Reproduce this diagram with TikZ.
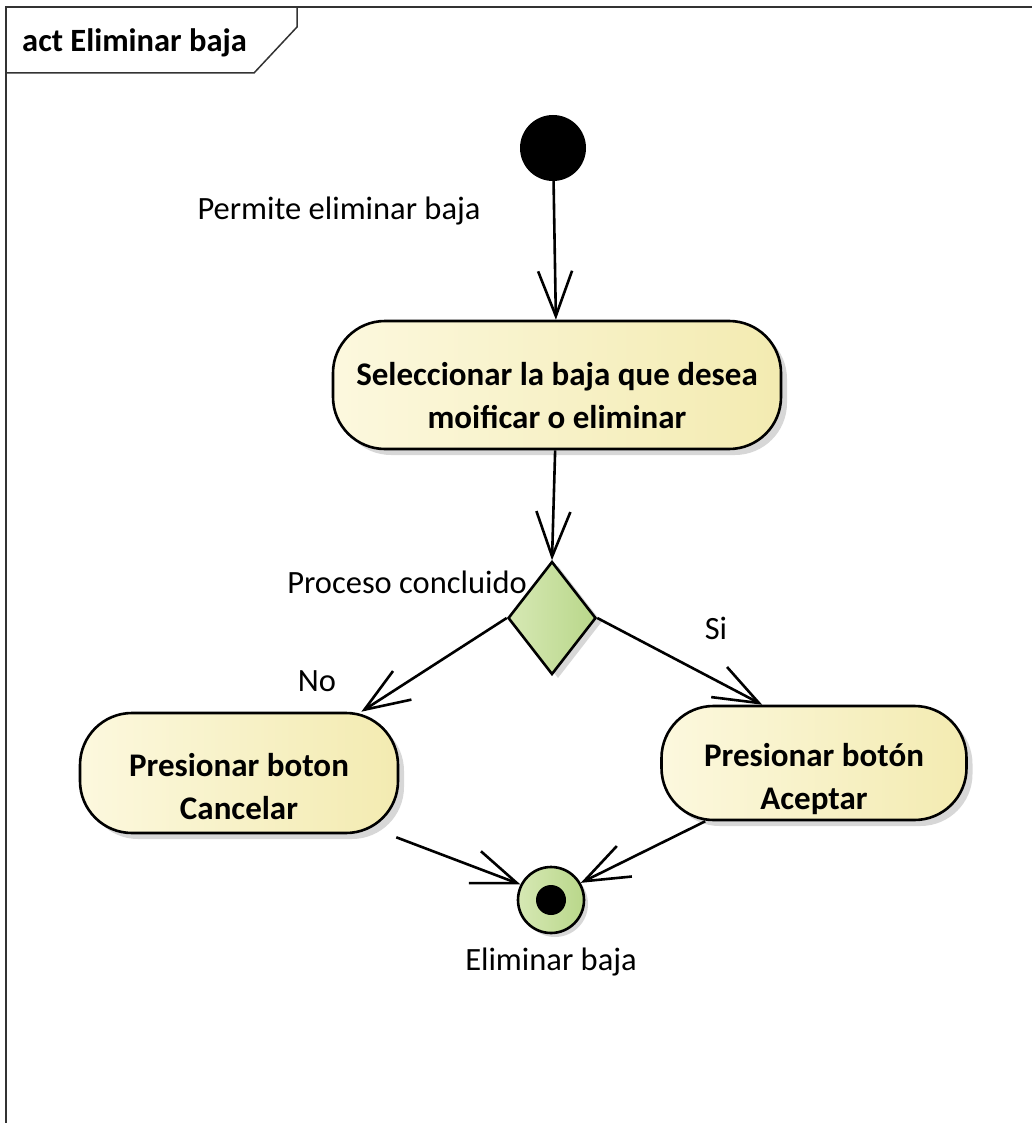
\documentclass[tikz,border=0pt]{standalone}
\usepackage{fontspec}
\setmainfont{Carlito}
\usetikzlibrary{arrows.meta, shapes.geometric, shadows, calc}
\definecolor{actLight}{RGB}{252, 248, 222}
\definecolor{actDark}{RGB}{243, 235, 177}
\definecolor{decLight}{RGB}{214, 232, 180}
\definecolor{decDark}{RGB}{185, 215, 138}

\tikzset{
  action/.style={draw, line width=2.6pt, rounded corners=52pt,
    left color=actLight, right color=actDark,
    drop shadow={shadow xshift=6pt, shadow yshift=-6pt, fill=gray!45, opacity=.7}},
  acttext/.style={align=center, inner sep=0pt, font=\fontsize{33}{43}\selectfont\bfseries},
  flow/.style={line width=2.6pt, -{Straight Barb[length=45pt, width=34pt, line width=2.6pt]}},
  lbl/.style={font=\fontsize{32.5}{36}\selectfont, inner sep=0pt}
}

\begin{document}
\begin{tikzpicture}[x=1pt, y=-1pt]
  \useasboundingbox (0,0) rectangle (1032,1123);
  % frame and tab
  \draw[line width=1.5pt, black!80] (6,1123) -- (6,7) -- (1032,7);
  \draw[line width=1.5pt, black!80] (6,73) -- (254,73) -- (297,27) -- (297,7);
  \node[anchor=west, inner sep=0pt, font=\fontsize{32.5}{36}\selectfont\bfseries] (title) at (22,43) {act Eliminar baja};

  \node[circle, fill=black, minimum size=66pt, inner sep=0pt] (start) at (553,148) {};
  \node[action, minimum width=448pt, minimum height=128pt,
    label={[acttext, yshift=-11pt]center:Seleccionar la baja que desea\\moificar o eliminar}] (select) at (557,385) {};
  \node[diamond, draw, line width=2.6pt, minimum width=88pt, minimum height=113pt, inner sep=0pt,
    left color=decLight, right color=decDark,
    drop shadow={shadow xshift=6pt, shadow yshift=-4pt, fill=gray!45, opacity=.7}] (decide) at (552,618) {};
  \node[action, minimum width=318pt, minimum height=120pt,
    label={[acttext, yshift=-14pt]center:Presionar boton\\Cancelar}] (cancel) at (239,773) {};
  \node[action, minimum width=305pt, minimum height=114pt,
    label={[acttext, yshift=-16pt]center:Presionar botón\\Aceptar}] (accept) at (814,763) {};
  \node[circle, draw, line width=2.6pt, minimum size=66pt, inner sep=0pt,
    left color=decLight, right color=decDark,
    drop shadow={shadow xshift=4pt, shadow yshift=-4pt, fill=gray!45, opacity=.7}] (final) at (551,900) {};
  \fill[black] (final) circle (15pt);

  % labels
  \node[lbl] (permite) at (339,211) {Permite eliminar baja};
  \node[lbl, anchor=east] (proceso) at (527,582) {Proceso concluido};
  \node[lbl] (no) at (317,681) {No};
  \node[lbl] (si) at (716,628) {Si};
  \node[lbl] (fin) at (551,962) {Eliminar baja};

  % transitions
  \draw[flow] (start) -- (select);
  \draw[flow] (select) -- (decide.north);
  \draw[flow] (decide.west) -- ($(cancel.north east)+(-38,0)$);
  \draw[flow] (decide.east) -- ($(accept.north west)+(102,0)$);
  \draw[flow] ($(cancel.south east)+(-3,3)$) -- (final.153);
  \draw[flow] ($(accept.south west)+(45,0)$) -- (final.30);
\end{tikzpicture}
\end{document}
